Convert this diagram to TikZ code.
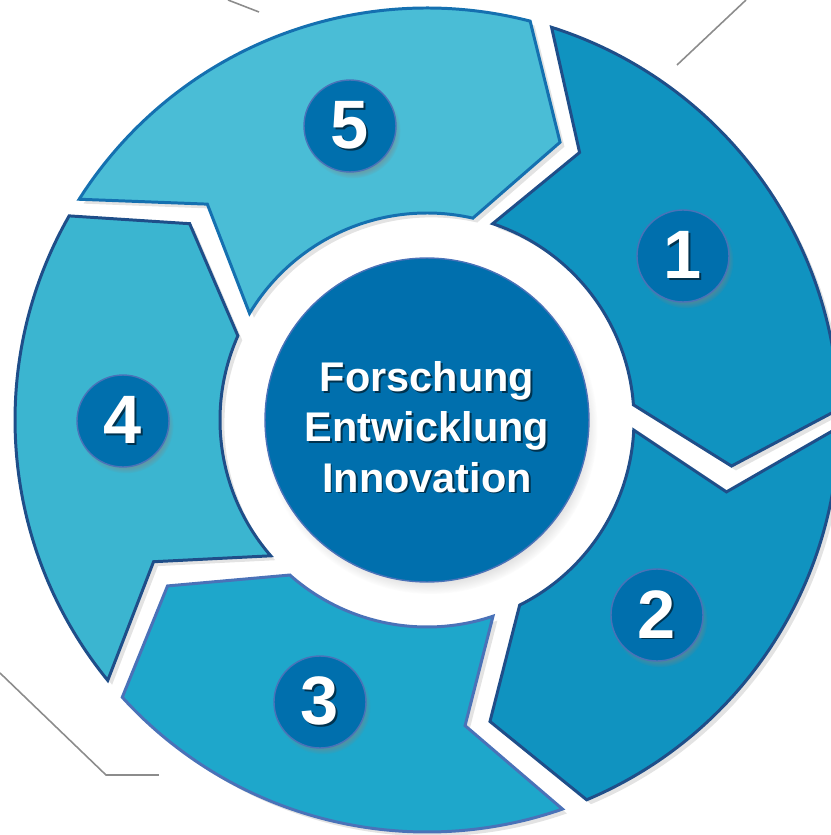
\documentclass[tikz,border=0pt]{standalone}
\usepackage{fontspec}
\setmainfont{Liberation Sans}
\usepackage{tikz}
\usetikzlibrary{shadows}

\definecolor{segdark}{HTML}{1093C0}
\definecolor{segmid}{HTML}{1EA7CB}
\definecolor{seglight}{HTML}{3BB5D0}
\definecolor{segtop}{HTML}{4ABDD6}
\definecolor{hubblue}{HTML}{006FAD}
\definecolor{rimnavy}{HTML}{1F4E89}
\definecolor{rimblue}{HTML}{1570B0}
\definecolor{rimslate}{HTML}{4A72B8}
\definecolor{guidegray}{HTML}{8C8C8C}

% white text with a soft dark copy behind it
\newcommand{\shadowtext}[1]{\rlap{\hspace{1pt}\raisebox{-1pt}{\color{hubblue!45!black}#1}}#1}

\begin{document}
\begin{tikzpicture}[x=0.02cm,y=0.02cm]
    \tikzstyle{seg}=[line width=1.7pt,line join=miter,drop shadow={shadow xshift=2.5pt,shadow yshift=-2.5pt,opacity=.22}]
    \tikzstyle{badge}=[circle,fill=hubblue,draw=rimslate,line width=.8pt,minimum size=1.84cm,inner sep=0pt,
                      text=white,font=\fontsize{39}{39}\selectfont\bfseries,
                      circular drop shadow={shadow xshift=1.5pt,shadow yshift=-2.5pt,shadow scale=1.04,opacity=.55}]
    \tikzstyle{hub}=[circle,fill=hubblue,draw=rimslate,line width=.8pt,minimum size=6.48cm,inner sep=0pt,
                    circular drop shadow={shadow xshift=2pt,shadow yshift=-4pt,shadow scale=1.03,opacity=.45}]
    \tikzstyle{hubtxt}=[align=center,text=white,font=\fontsize{23.6}{28.5}\selectfont\bfseries]
    \tikzstyle{guide}=[draw=guidegray,line width=.9pt]

    \useasboundingbox (-427,-415) rectangle (404,420);

    % loose ends of the surrounding chart
    \coordinate (tla) at (-199,420);
    \coordinate (tlb) at (-168,408);
    \coordinate (tra) at (319,420);
    \coordinate (trb) at (250,355);
    \coordinate (bla) at (-427,-253);
    \coordinate (blb) at (-321,-355);
    \coordinate (blc) at (-268,-355);
    \draw[guide] (tla) -- (tlb);
    \draw[guide] (tra) -- (trb);
    \draw[guide] (bla) -- (blb) -- (blc);

    % ring of arrows, clockwise
    \draw[seg,fill=segtop,draw=rimblue] (147.6:412) arc[start angle=147.6,end angle=75.5,radius=412]
        -- (64.4:308) -- (77.2:207) arc[start angle=77.2,end angle=149,radius=207] -- (135.5:308) -- cycle;
    \draw[seg,fill=segdark,draw=rimnavy] (72.4:412) arc[start angle=72.4,end angle=1.5,radius=412]
        -- (-8.6:308) -- (4.2:207) arc[start angle=4.2,end angle=71.5,radius=207] -- (60.3:308) -- cycle;
    \draw[seg,fill=segdark,draw=rimnavy] (-1:412) arc[start angle=-1,end angle=-67.2,radius=412]
        -- (-78.2:308) -- (-63.4:207) arc[start angle=-63.4,end angle=-2.8,radius=207] -- (-13.5:308) -- cycle;
    \draw[seg,fill=segmid,draw=rimslate] (-70.8:412) arc[start angle=-70.8,end angle=-137.7,radius=412]
        -- (-147.4:308) -- (-131.5:207) arc[start angle=-131.5,end angle=-71.4,radius=207] -- (-82.9:308) -- cycle;
    \draw[seg,fill=seglight,draw=rimnavy] (-140.8:412) arc[start angle=-140.8,end angle=-209.7,radius=412]
        -- (-219.6:308) -- (-204:207) arc[start angle=-204,end angle=-139,radius=207] -- (-152.6:308) -- cycle;

    \node[hub] (hub) at (0,0) {};
    \node[hubtxt] (hubtxt) at (0,-8) {\shadowtext{Forschung}\\\shadowtext{Entwicklung}\\\shadowtext{Innovation}};

    \node[badge] (n1) at (256,164) {\shadowtext{1}};
    \node[badge] (n2) at (230,-195) {\shadowtext{2}};
    \node[badge] (n3) at (-107,-282) {\shadowtext{3}};
    \node[badge] (n4) at (-304,-1) {\shadowtext{4}};
    \node[badge] (n5) at (-77,294) {\shadowtext{5}};
\end{tikzpicture}
\end{document}
